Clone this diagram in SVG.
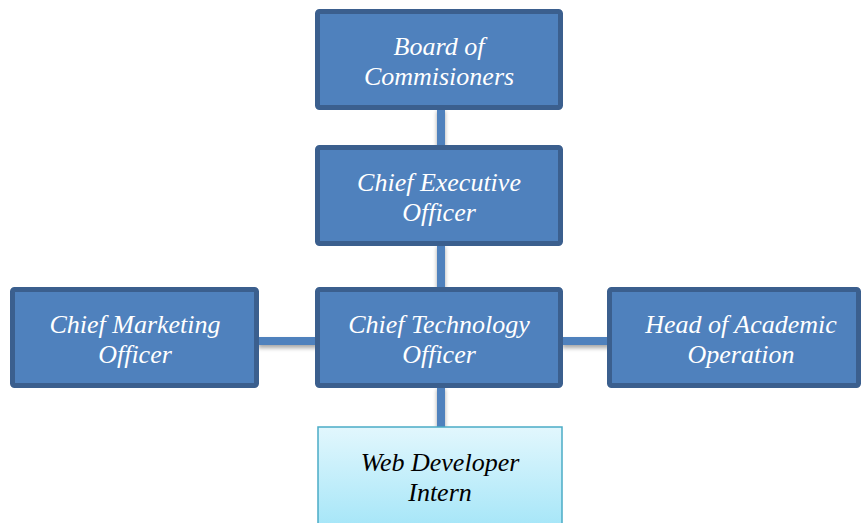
<svg xmlns="http://www.w3.org/2000/svg" width="865" height="523" viewBox="0 0 865 523">
<defs>
<linearGradient id="lg" x1="0" y1="0" x2="0" y2="1">
<stop offset="0" stop-color="#e2f7fd"/>
<stop offset="1" stop-color="#a6e6f8"/>
</linearGradient>
<filter id="sh" x="-10%" y="-10%" width="130%" height="140%">
<feGaussianBlur in="SourceAlpha" stdDeviation="2"/>
<feOffset dx="0" dy="3" result="b"/>
<feComponentTransfer><feFuncA type="linear" slope="0.35"/></feComponentTransfer>
<feMerge><feMergeNode/><feMergeNode in="SourceGraphic"/></feMerge>
</filter>
</defs>
<style>
.box{fill:#4f81bd;stroke:#3b5f8e;stroke-width:5}
.lt{fill:url(#lg);stroke:#4bacc6;stroke-width:1.5}
.t{font-family:'Liberation Serif','Times New Roman',serif;font-style:italic;font-size:26px;text-anchor:middle;fill:#ffffff}
.tb{fill:#000000}
.c{stroke:#4f81bd;stroke-width:8;fill:none}
</style>
<g id="connectors" filter="url(#sh)">
<line class="c" x1="441" y1="108" x2="441" y2="148"/>
<line class="c" x1="441" y1="244" x2="441" y2="290"/>
<line class="c" x1="441" y1="386" x2="441" y2="428"/>
<line class="c" x1="258" y1="341" x2="318" y2="341"/>
<line class="c" x1="562" y1="341" x2="610" y2="341"/>
</g>
<g id="board">
<rect class="box" x="317.5" y="11.5" width="243" height="96" rx="2"/>
<text class="t" x="439" y="55">Board of</text>
<text class="t" x="439" y="85">Commisioners</text>
</g>
<g id="ceo">
<rect class="box" x="317.5" y="147.5" width="243" height="96" rx="2"/>
<text class="t" x="439" y="191">Chief Executive</text>
<text class="t" x="439" y="221">Officer</text>
</g>
<g id="cmo">
<rect class="box" x="12.5" y="289.5" width="244" height="96" rx="2"/>
<text class="t" x="135" y="333">Chief Marketing</text>
<text class="t" x="135" y="363">Officer</text>
</g>
<g id="cto">
<rect class="box" x="317.5" y="289.5" width="243" height="96" rx="2"/>
<text class="t" x="439" y="333">Chief Technology</text>
<text class="t" x="439" y="363">Officer</text>
</g>
<g id="hao">
<rect class="box" x="609.5" y="289.5" width="249" height="96" rx="2"/>
<text class="t" x="741" y="333">Head of Academic</text>
<text class="t" x="741" y="363">Operation</text>
</g>
<g id="webdev">
<rect class="lt" x="318" y="427" width="244" height="100"/>
<text class="t tb" x="440" y="471">Web Developer</text>
<text class="t tb" x="440" y="501">Intern</text>
</g>
</svg>
